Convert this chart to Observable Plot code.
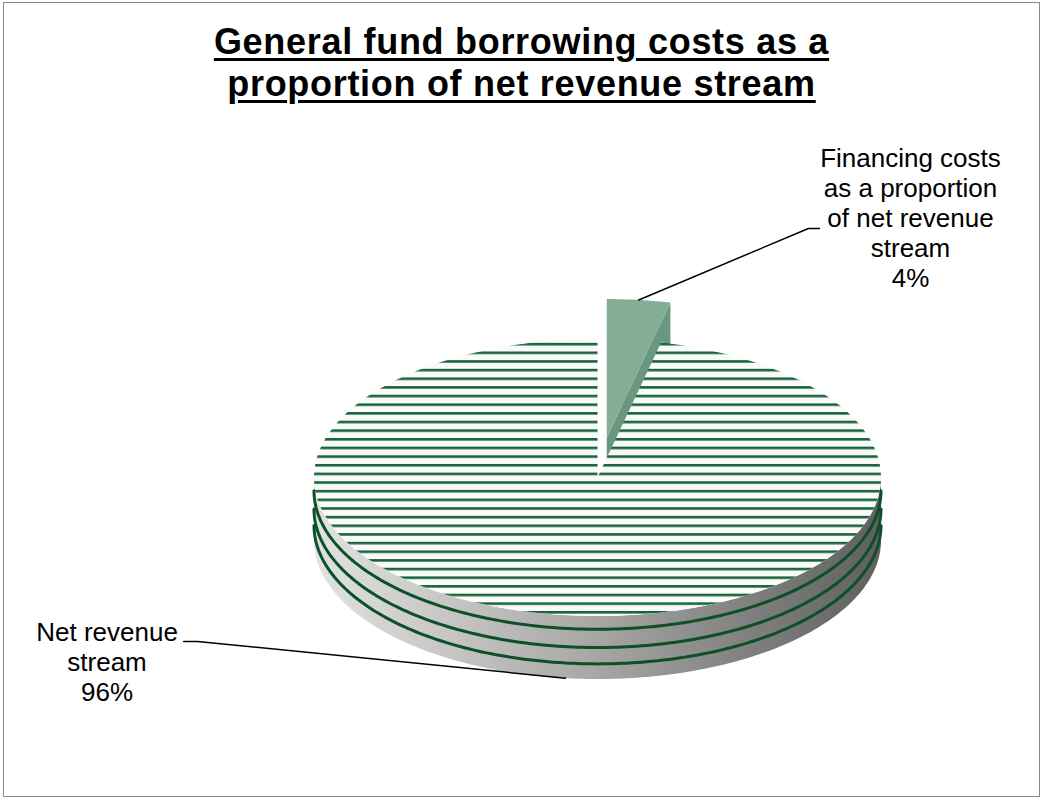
<!DOCTYPE html>
<html><head><meta charset="utf-8">
<script src="https://cdn.jsdelivr.net/npm/d3@7"></script>
<script src="https://cdn.jsdelivr.net/npm/@observablehq/plot@0.6"></script>
<style>
body{margin:0;background:#fff;}
#frame{position:absolute;left:3px;top:2px;width:1037px;height:795px;box-sizing:border-box;border:1px solid #8a8a8a;background:#fff;overflow:hidden;}
#title{height:108px;box-sizing:border-box;padding-top:18px;text-align:center;font:bold 36px/42px Arial,"Liberation Sans",sans-serif;letter-spacing:0.7px;color:#000;}
#title span{text-decoration:underline;text-decoration-thickness:3px;text-underline-offset:4px;}
#chart svg{display:block;}
</style></head><body>
<div id="frame">
  <div id="title"><span>General fund borrowing costs as a</span><br><span>proportion of net revenue stream</span></div>
  <div id="chart"></div>
</div>
<script>
// ---- data ----
const categories = ["Financing costs as a proportion of net revenue stream", "Net revenue stream"];
const labelLines = [["Financing costs", "as a proportion", "of net revenue", "stream"], ["Net revenue", "stream"]];
const values = [3.6, 96.4];
const explode = [0.29, 0];

// ---- layout (pie-space units) ----
const T = 0.455;                 // side thickness
const sideStripes = [0.21, 0.5, 0.76];
const labelLayout = [
  {x: 1.104, y: -1.374, elbow: [0.744, -1.798], end: [0.783, -1.798], anchor: "top"},
  {x: -1.730, y: 1.615, elbow: [-1.411, 1.184], end: [-1.460, 1.184], anchor: "bottom"}
];

const rows = categories.map((c, i) => ({category: c, value: values[i], explode: explode[i], lines: labelLines[i]}));
const total = d3.sum(values);
const arcs = d3.pie().sort(null).value(d => d.value).startAngle(0).endAngle(2 * Math.PI)(rows);

function pt(a, r, ex, ez, h) {
  return {x: r * Math.sin(a) + ex, y: -(r * Math.cos(a) + ez) + h};
}
function arcPts(a0, a1, ex, ez, h) {
  const n = Math.max(2, Math.ceil(Math.abs(a1 - a0) / (Math.PI / 180)));
  return d3.range(n + 1).map(i => pt(a0 + (a1 - a0) * i / n, 1, ex, ez, h));
}

const slices = arcs.map(a => {
  const mid = (a.startAngle + a.endAngle) / 2;
  const e = a.data.explode;
  return {a, mid, ex: e * Math.sin(mid), ez: e * Math.cos(mid), depth: Math.cos(mid) + e};
}).sort((p, q) => q.depth - p.depth); // back first

const marks = [];
for (const s of slices) {
  const {a, ex, ez} = s;
  const a0 = a.startAngle, a1 = a.endAngle;
  const isExploded = a.data.explode > 0;
  const faces = [];
  if (a1 < Math.PI) faces.push(a1);
  if (a0 > Math.PI) faces.push(a0);
  for (const f of faces) {
    const poly = [pt(0, 0, ex, ez, 0), pt(f, 1, ex, ez, 0), pt(f, 1, ex, ez, T), pt(0, 0, ex, ez, T)];
    marks.push(Plot.line(poly, {x: "x", y: "y", fill: "#6a977f", stroke: "none"}));
  }
  const s0 = Math.max(a0, Math.PI / 2), s1 = Math.min(a1, 3 * Math.PI / 2);
  if (s1 > s0) {
    const poly = [...arcPts(s0, s1, ex, ez, 0), ...arcPts(s1, s0, ex, ez, T)];
    marks.push(Plot.line(poly, {x: "x", y: "y", fill: isExploded ? "#6a977f" : "url(#sideGrad)", stroke: "none"}));
    if (!isExploded) {
      for (const f of sideStripes) {
        marks.push(Plot.line(arcPts(s0, s1, ex, ez, f * T), {x: "x", y: "y", stroke: "#0c5029", strokeWidth: 3}));
      }
    }
  }
  const top = [pt(0, 0, ex, ez, 0), ...arcPts(a0, a1, ex, ez, 0)];
  marks.push(Plot.line(top, {x: "x", y: "y", fill: isExploded ? "url(#checker)" : "url(#stripes)", stroke: "none"}));
}

arcs.forEach((a, i) => {
  const L = labelLayout[i];
  const mid = (a.startAngle + a.endAngle) / 2;
  const e = a.data.explode;
  const ex = e * Math.sin(mid), ez = e * Math.cos(mid);
  const anc = pt(mid, 1, ex, ez, L.anchor === "top" ? 0 : T);
  const leader = [anc, {x: L.elbow[0], y: L.elbow[1]}, {x: L.end[0], y: L.end[1]}];
  marks.push(Plot.line(leader, {x: "x", y: "y", stroke: "#000", strokeWidth: 1.5}));
  const pct = Math.round(a.data.value / total * 100) + "%";
  marks.push(Plot.text([{x: L.x, y: L.y, t: [...a.data.lines, pct].join("\n")}], {
    x: "x", y: "y", text: "t", fontSize: 26, lineHeight: 30 / 26, lineAnchor: "bottom",
    textAnchor: "middle", fill: "#000", fontFamily: "Arial, 'Liberation Sans', sans-serif"
  }));
});

const svg = Plot.plot({
  width: 1035, height: 685, margin: 0,
  x: {domain: [-1, 1], range: [309.5, 876.5], axis: null},
  y: {domain: [-1, 1], range: [227.5, 504.5], axis: null},
  style: {background: "#fff", fontFamily: "Arial, 'Liberation Sans', sans-serif", overflow: "visible"},
  marks
});

const defs = d3.select(svg).insert("defs", ":first-child");
const st = defs.append("pattern").attr("id", "stripes").attr("patternUnits", "userSpaceOnUse")
  .attr("x", 0).attr("y", 6.45).attr("width", 10).attr("height", 8.65);
st.append("rect").attr("width", 10).attr("height", 8.65).attr("fill", "#fafafa");
st.append("rect").attr("y", 0).attr("width", 10).attr("height", 2.6).attr("fill", "#17663a");
const ck = defs.append("pattern").attr("id", "checker").attr("patternUnits", "userSpaceOnUse")
  .attr("width", 2).attr("height", 2);
ck.append("rect").attr("width", 2).attr("height", 2).attr("fill", "#c2dacb");
ck.append("rect").attr("x", 0).attr("y", 0).attr("width", 1).attr("height", 1).attr("fill", "#44805e");
ck.append("rect").attr("x", 1).attr("y", 1).attr("width", 1).attr("height", 1).attr("fill", "#44805e");
const g = defs.append("linearGradient").attr("id", "sideGrad").attr("x1", 0).attr("y1", 0).attr("x2", 1).attr("y2", 0);
[[0, "#e2e2e2"], [0.5, "#a6a6a6"], [1, "#5f5f5f"]].forEach(([o, c]) => g.append("stop").attr("offset", o).attr("stop-color", c));

document.getElementById("chart").appendChild(svg);
</script>
</body></html>
